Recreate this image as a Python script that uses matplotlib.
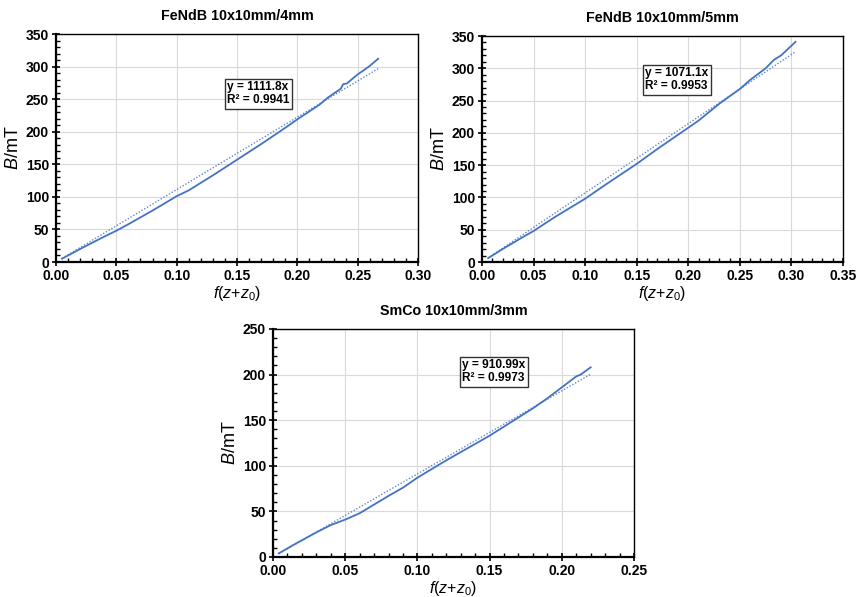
import matplotlib.pyplot as plt
from matplotlib.ticker import MultipleLocator
import numpy as np

plt.rcParams['font.family'] = ['Liberation Sans', 'DejaVu Sans']
plt.rcParams['mathtext.fontset'] = 'custom'
plt.rcParams['mathtext.rm'] = 'Liberation Sans'
plt.rcParams['mathtext.it'] = 'Liberation Sans:italic'

# --- data ---
titles = ["FeNdB 10x10mm/4mm", "FeNdB 10x10mm/5mm", "SmCo 10x10mm/3mm"]
slopes = [1111.8, 1071.1, 910.99]
r2 = [0.9941, 0.9953, 0.9973]

x1 = [0.005, 0.02, 0.04, 0.05, 0.06, 0.08, 0.10, 0.11, 0.13, 0.15, 0.17, 0.19, 0.20,
      0.218, 0.225, 0.236, 0.238, 0.241, 0.25, 0.254, 0.26, 0.267]
b1 = [5, 20, 39, 48, 58, 79, 101, 110, 133, 157, 181, 206, 219,
      241, 252, 266, 273, 274, 288, 293, 301, 312]

x2 = [0.006, 0.02, 0.04, 0.05, 0.07, 0.10, 0.12, 0.15, 0.17, 0.20, 0.21, 0.23, 0.25,
      0.26, 0.275, 0.283, 0.29, 0.304]
b2 = [6, 20, 39, 48, 69, 98, 120, 152, 175, 208, 219, 245, 268,
      282, 300, 313, 320, 341]

x3 = [0.004, 0.015, 0.03, 0.04, 0.05, 0.06, 0.08, 0.09, 0.10, 0.12, 0.15, 0.165,
      0.18, 0.19, 0.20, 0.21, 0.213, 0.22]
b3 = [4, 14, 27, 35, 41, 48, 67, 76, 87, 106, 133, 148,
      163, 174, 186, 198, 200, 208]

xs = [x1, x2, x3]
bs = [b1, b2, b3]
xlims = [(0, 0.30), (0, 0.35), (0, 0.25)]
ylims = [(0, 350), (0, 350), (0, 250)]
box_pos = [(0.142, 258), (0.158, 282), (0.131, 203)]

# axes rectangles in pixels (left, top, right, bottom)
W, H = 856, 597
rects = [(56, 34, 418, 262), (482, 36, 843, 262), (273, 329, 634, 557)]

blue = "#4472C4"
fig = plt.figure(figsize=(W / 100, H / 100), dpi=100)

for i in range(3):
    l, t, r, b = rects[i]
    ax = fig.add_axes([l / W, 1 - b / H, (r - l) / W, (b - t) / H])
    x = np.array(xs[i])
    ax.plot(x, bs[i], color=blue, lw=1.3, zorder=3)
    xf = np.array([x[0], x[-1]])
    # linear trendline through origin
    ax.plot(xf, slopes[i] * xf, color=blue, lw=1.0, alpha=0.85,
            ls=(0, (1, 1.3)), zorder=2)

    ax.set_xlim(*xlims[i])
    ax.set_ylim(*ylims[i])
    ax.xaxis.set_major_locator(MultipleLocator(0.05))
    ax.xaxis.set_minor_locator(MultipleLocator(0.01))
    ax.yaxis.set_major_locator(MultipleLocator(50))
    ax.yaxis.set_minor_locator(MultipleLocator(10))
    ax.xaxis.set_major_formatter(plt.FuncFormatter(lambda v, p: f"{v:.2f}"))

    ax.grid(True, which="major", color="#d9d9d9", lw=0.8)
    ax.set_axisbelow(True)
    ax.tick_params(which="major", direction="inout", length=6, width=1.2,
                   labelsize=10, pad=2)
    ax.tick_params(which="minor", direction="in", length=3, width=1.0)
    ax.tick_params(top=False, right=False, which="both")
    for lab in ax.get_xticklabels() + ax.get_yticklabels():
        lab.set_fontweight("bold")
    for side in ["left", "bottom"]:
        ax.spines[side].set_linewidth(1.6)
    for side in ["top", "right"]:
        ax.spines[side].set_linewidth(1.0)

    ax.set_title(titles[i], fontsize=10.3, fontweight="bold", pad=10)
    ax.set_ylabel("$\\it{B}$/mT", fontsize=13, labelpad=3)
    ax.set_xlabel("$\\it{f}$($\\it{z}$+$\\it{z}_0$)", fontsize=11.5, labelpad=1)

    bx, by = box_pos[i]
    ax.text(bx, by, f"y = {slopes[i]:g}x\nR² = {r2[i]:.4f}", fontsize=8.6,
            fontweight="bold", ha="left", va="center", linespacing=1.1,
            bbox=dict(facecolor="white", edgecolor="#333333", lw=1.0,
                      boxstyle="square,pad=0.2"), zorder=5)

fig.savefig("out.png", dpi=100)
